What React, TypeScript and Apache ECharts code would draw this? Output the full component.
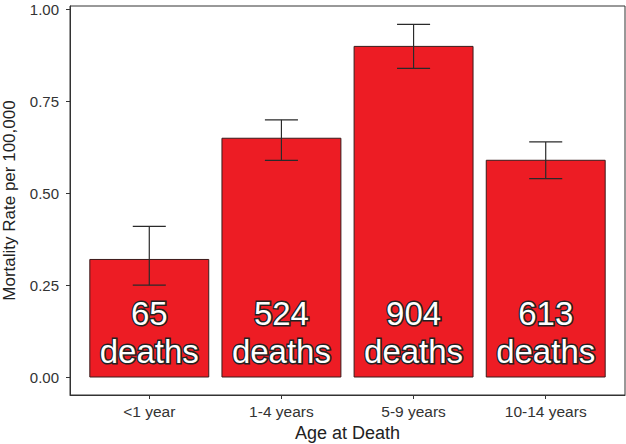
import React, { useEffect, useRef } from "react";
import * as echarts from "echarts";

const categories = ["<1 year", "1-4 years", "5-9 years", "10-14 years"];
const rates = [0.32, 0.65, 0.9, 0.59];
const lower = [0.25, 0.59, 0.84, 0.54];
const upper = [0.41, 0.7, 0.96, 0.64];
const deaths = [65, 524, 904, 613];
const yTicks = [0, 0.25, 0.5, 0.75, 1.0];

const FONT = "'Liberation Sans', Arial, Helvetica, sans-serif";

export default function App() {
  const ref = useRef<HTMLDivElement>(null);
  useEffect(() => {
    if (!ref.current) return;
    const chart = echarts.init(ref.current, null, { renderer: "svg" });
    const data = categories.map((c, i) => [i, rates[i], lower[i], upper[i], deaths[i]]);
    chart.setOption({
      animation: false,
      backgroundColor: "#fff",
      grid: {
        left: 70,
        top: 6,
        right: 1,
        bottom: 49,
        show: true,
        borderColor: "#333",
        borderWidth: 1,
        containLabel: false,
        outerBoundsMode: "none",
      },
      xAxis: {
        type: "value",
        min: -0.6,
        max: 3.6,
        splitLine: { show: false },
        axisLine: { show: true, onZero: false, lineStyle: { color: "#333", width: 1 } },
        axisTick: { show: true, customValues: [0, 1, 2, 3], length: 4, lineStyle: { color: "#333" } },
        axisLabel: {
          customValues: [0, 1, 2, 3],
          formatter: (v: number) => categories[Math.round(v)] ?? "",
          color: "#333",
          fontSize: 15.5,
          fontFamily: FONT,
          margin: 8,
        },
        name: "Age at Death",
        nameLocation: "middle",
        nameGap: 29,
        nameTextStyle: { color: "#222", fontSize: 18, fontFamily: FONT },
      },
      yAxis: {
        type: "value",
        min: -0.049,
        max: 1.01,
        splitLine: { show: false },
        axisLine: { show: true, onZero: false, lineStyle: { color: "#333", width: 1 } },
        axisTick: { show: true, customValues: yTicks, length: 4, lineStyle: { color: "#333" } },
        axisLabel: {
          customValues: yTicks,
          formatter: (v: number) => v.toFixed(2),
          color: "#333",
          fontSize: 15,
          fontFamily: FONT,
          margin: 11,
        },
        name: "Mortality Rate per 100,000",
        nameLocation: "middle",
        nameGap: 52,
        nameTextStyle: { color: "#222", fontSize: 17, fontFamily: FONT },
      },
      series: [
        {
          type: "custom",
          data,
          clip: false,
          renderItem: (params: any, api: any) => {
            const x = api.value(0);
            const v = api.value(1);
            const lo = api.value(2);
            const hi = api.value(3);
            const d = api.value(4);
            const pL = api.coord([x - 0.45, 0]);
            const pR = api.coord([x + 0.45, v]);
            const c0 = api.coord([x, 0]);
            const cLo = api.coord([x, lo]);
            const cHi = api.coord([x, hi]);
            const capL = api.coord([x - 0.125, lo])[0];
            const capR = api.coord([x + 0.125, lo])[0];
            const errStyle = { stroke: "#2a2a2a", lineWidth: 1.2, fill: null };
            const textStyle = (t: string, y: number) => ({
              type: "text",
              x: c0[0],
              y,
              style: {
                text: t,
                fill: "#fff",
                stroke: "#222",
                lineWidth: 3,
                font: `33px ${FONT}`,
                align: "center",
                verticalAlign: "middle",
              },
            });
            return {
              type: "group",
              children: [
                {
                  type: "rect",
                  shape: { x: pL[0], y: pR[1], width: pR[0] - pL[0], height: pL[1] - pR[1] },
                  style: { fill: "#ED1C24", stroke: "#3a1a1a", lineWidth: 1 },
                },
                { type: "line", shape: { x1: c0[0], y1: cLo[1], x2: c0[0], y2: cHi[1] }, style: errStyle },
                { type: "line", shape: { x1: capL, y1: cLo[1], x2: capR, y2: cLo[1] }, style: errStyle },
                { type: "line", shape: { x1: capL, y1: cHi[1], x2: capR, y2: cHi[1] }, style: errStyle },
                textStyle(String(d), c0[1] - 64),
                textStyle("deaths", c0[1] - 26),
              ],
            };
          },
        },
      ],
    });
    return () => chart.dispose();
  }, []);
  return (
    <div
      ref={ref}
      style={{ position: "fixed", left: 0, top: 0, width: 626, height: 444 }}
    />
  );
}
